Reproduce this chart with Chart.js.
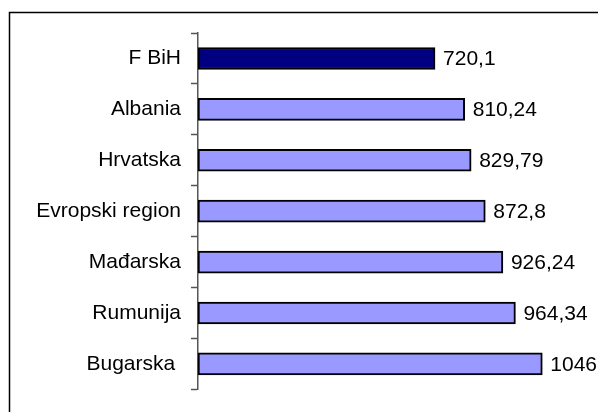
<!DOCTYPE html>
<html>
<head>
<meta charset="utf-8">
<script src="https://cdn.jsdelivr.net/npm/chart.js@4/dist/chart.umd.min.js"></script>
<style>
html,body{margin:0;padding:0;background:#fff;}
#wrap{position:relative;width:598px;height:412px;}
canvas{display:block;}
</style>
</head>
<body>
<div id="wrap"><canvas id="c" width="598" height="412"></canvas></div>
<script>
const categories = ["F BiH", "Albania", "Hrvatska", "Evropski region", "Mađarska", "Rumunija", "Bugarska "];
const values = [720.1, 810.24, 829.79, 872.8, 926.24, 964.34, 1046];

const FONT = "'Liberation Sans', Arial, sans-serif";

const framePlugin = {
  id: 'frame',
  beforeDraw(chart) {
    const ctx = chart.ctx;
    ctx.save();
    ctx.strokeStyle = '#000';
    ctx.lineWidth = 1.5;
    ctx.beginPath();
    ctx.moveTo(9.5, 420);
    ctx.lineTo(9.5, 12.5);
    ctx.lineTo(610, 12.5);
    ctx.stroke();
    ctx.restore();
  }
};

const valueLabels = {
  id: 'valueLabels',
  afterDatasetsDraw(chart) {
    const ctx = chart.ctx;
    const meta = chart.getDatasetMeta(0);
    ctx.save();
    ctx.font = '21px ' + FONT;
    ctx.fillStyle = '#000';
    ctx.textAlign = 'left';
    ctx.textBaseline = 'middle';
    meta.data.forEach((bar, i) => {
      const txt = String(values[i]).replace('.', ',');
      ctx.fillText(txt, bar.x + 8, bar.y + 1);
    });
    ctx.restore();
  }
};

new Chart(document.getElementById('c'), {
  type: 'bar',
  data: {
    labels: categories,
    datasets: [{
      data: values,
      backgroundColor: categories.map((c, i) => i === 0 ? '#000080' : '#9999FF'),
      borderColor: '#000',
      borderWidth: 2,
      borderSkipped: false,
      barThickness: 22
    }]
  },
  options: {
    indexAxis: 'y',
    responsive: false,
    animation: false,
    devicePixelRatio: 1,
    layout: { padding: { left: 0, right: 5, top: 33, bottom: 12 } },
    plugins: { legend: { display: false }, tooltip: { enabled: false } },
    scales: {
      x: {
        display: false,
        min: 0,
        max: 1200
      },
      y: {
        afterFit(scale) { scale.width = 198; },
        grid: {
          display: true,
          drawOnChartArea: false,
          drawTicks: true,
          tickLength: 7,
          tickColor: '#555',
          tickWidth: 1.5,
          color: '#555',
          offset: true
        },
        border: { display: true, color: '#555', width: 1.5 },
        ticks: {
          color: '#000',
          padding: 10,
          font: { family: FONT, size: 21 }
        }
      }
    }
  },
  plugins: [framePlugin, valueLabels]
});
</script>
</body>
</html>
